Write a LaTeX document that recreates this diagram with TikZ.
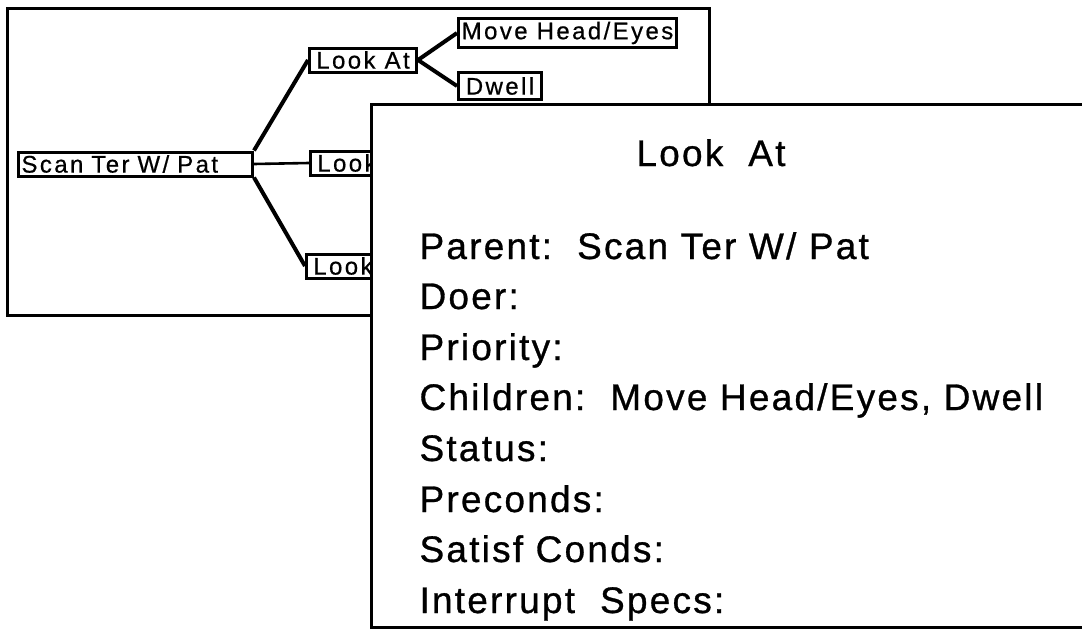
\documentclass[tikz,border=0pt]{standalone}
\usepackage{fontspec}
\setmainfont{Liberation Sans}
\newfontfamily\boxfont[LetterSpace=10, FakeBold=0.6]{Liberation Sans}
\newfontfamily\cardfont[LetterSpace=6, FakeBold=0.8]{Liberation Sans}
\usetikzlibrary{positioning, calc}

\begin{document}
\begin{tikzpicture}[x=1pt, y=-1pt]
    \tikzset{
        window/.style={draw=black, line width=3pt, fill=white},
        taskbox/.style={rectangle, draw=black, line width=3pt, fill=white,
            inner xsep=3pt, inner ysep=0pt, minimum height=24pt,
            align=left, font=\fontsize{24}{24}\boxfont},
        treeline/.style={line width=4pt},
        cardtitle/.style={anchor=base, font=\fontsize{37}{37}\cardfont},
        cardline/.style={anchor=base west, font=\fontsize{37}{37}\cardfont}
    }
    \useasboundingbox (0,0) rectangle (1082,629);
    \clip (0,0) rectangle (1082,629);
    \draw[window] (7,8) rectangle (709,315);
    \node[taskbox, anchor=west, text width=228pt] (scan) at (17,164) {Scan Ter W/ Pat};
    \node[taskbox, anchor=west, minimum width=107pt] (lookat) at (308,60) {Look At};
    \node[taskbox, anchor=west, minimum width=107pt] (lookmid) at (309,163) {Look At};
    \node[taskbox, anchor=west, minimum width=107pt] (lookbot) at (305,266) {Look At};
    \node[taskbox, anchor=west, minimum width=218pt, minimum height=29pt] (move) at (457,33) {Move Head/Eyes};
    \node[taskbox, anchor=west, minimum width=83pt, minimum height=27pt] (dwell) at (457,86) {Dwell};
    \draw[treeline] (scan.north east) -- (lookat.west);
    \draw[treeline, line width=2.6pt] (scan.east) -- (lookmid.west);
    \draw[treeline] (scan.south east) -- (lookbot.west);
    \draw[treeline] (lookat.east) -- (move.west);
    \draw[treeline] (lookat.east) -- (dwell.west);
    \draw[window] (371,104) rectangle (1100,627);
    \node[cardtitle] (title) at (711,166) {Look~~At};
    \node[cardline] (parent) at (416,259) {Parent:~~Scan Ter W/ Pat};
    \node[cardline] (doer) at (416,309) {Doer:};
    \node[cardline] (priority) at (416,360) {Priority:};
    \node[cardline] (children) at (416,410) {Children:~~Move Head/Eyes, Dwell};
    \node[cardline] (status) at (416,461) {Status:};
    \node[cardline] (preconds) at (416,512) {Preconds:};
    \node[cardline] (satisf) at (416,562) {Satisf Conds:};
    \node[cardline] (interrupt) at (416,613) {Interrupt~~Specs:};
\end{tikzpicture}
\end{document}
